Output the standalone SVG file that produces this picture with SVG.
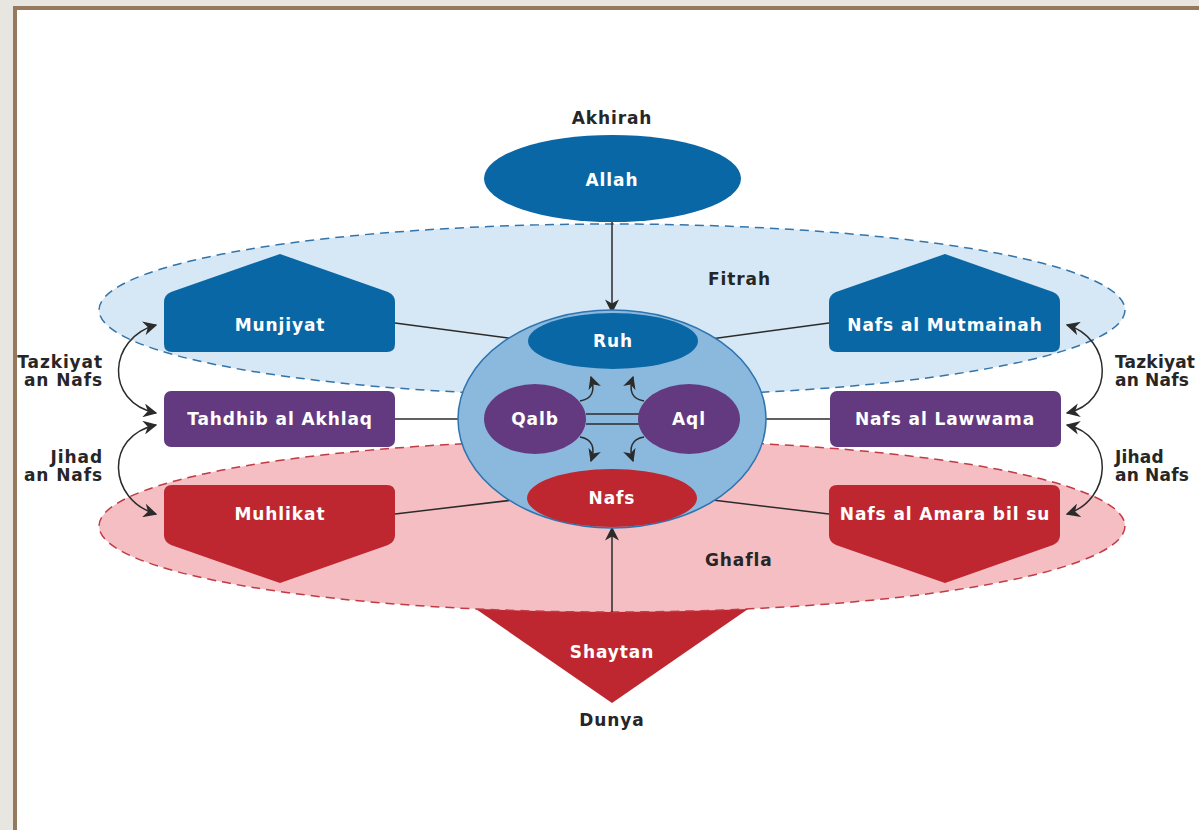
<svg xmlns="http://www.w3.org/2000/svg" width="1199" height="830" viewBox="0 0 1199 830">
  <style>
    .lbl { font-family: "DejaVu Sans", "Open Sans", sans-serif; font-weight: 700; font-size: 17px; letter-spacing: 0.9px; }
    .in { fill: #ffffff; text-anchor: middle; }
    .out { fill: #262626; }
    .tight { letter-spacing: 0.2px; }
    .link { stroke: #2b2b2b; stroke-width: 1.5; fill: none; }
    .blue { fill: #0a67a6; }
    .purple { fill: #633a80; }
    .red { fill: #be2630; }
  </style>
  <defs>
    <marker id="head" viewBox="0 0 10 10" refX="9" refY="5" markerWidth="13" markerHeight="13" markerUnits="userSpaceOnUse" orient="auto-start-reverse">
      <path d="M0,0 L10,5 L0,10 L3,5 Z" fill="#2b2b2b"/>
    </marker>
    <marker id="bighead" viewBox="0 0 10 10" refX="9" refY="5" markerWidth="14" markerHeight="14" markerUnits="userSpaceOnUse" orient="auto-start-reverse">
      <path d="M0,0 L10,5 L0,10 L3,5 Z" fill="#2b2b2b"/>
    </marker>
    <path id="house" d="M280,254 L388,292 Q395,295 395,302 L395,344 Q395,352 387,352 L172,352 Q164,352 164,344 L164,302 Q164,295 171,292 Z"/>
    <path id="shield" d="M172,485 L387,485 Q395,485 395,493 L395,535 Q395,542 388,545 L280,583 L171,545 Q164,542 164,535 L164,493 Q164,485 172,485 Z"/>
  </defs>

  <!-- page frame -->
  <rect x="0" y="0" width="1199" height="830" fill="#e8e6e1"/>
  <rect x="13" y="6" width="1186" height="824" fill="#977a5e"/>
  <rect x="17" y="10" width="1182" height="820" fill="#ffffff"/>

  <!-- Shaytan sits behind the Ghafla band -->
  <g id="shaytan">
    <path d="M460,598 L764,598 L612,703 Z" class="red"/>
    <text x="612" y="658" class="lbl in">Shaytan</text>
  </g>

  <!-- realms -->
  <g id="fitrah">
    <ellipse cx="612" cy="310" rx="513" ry="86" fill="#d6e8f5" stroke="#3474aa" stroke-width="1.5" stroke-dasharray="9 6"/>
    <text x="708" y="285" class="lbl out">Fitrah</text>
  </g>
  <g id="ghafla">
    <ellipse cx="612" cy="526" rx="513" ry="86" fill="#f5bec3" stroke="#c23a44" stroke-width="1.5" stroke-dasharray="9 6"/>
    <text x="705" y="566" class="lbl out">Ghafla</text>
  </g>

  <text x="612" y="124" class="lbl out" text-anchor="middle">Akhirah</text>
  <text x="612" y="726" class="lbl out" text-anchor="middle">Dunya</text>

  <!-- connectors -->
  <g id="connectors">
    <line x1="612" y1="222" x2="612" y2="312" class="link" marker-end="url(#bighead)"/>
    <line x1="612" y1="612" x2="612" y2="528" class="link" marker-end="url(#bighead)"/>
    <line x1="395" y1="323" x2="530" y2="341" class="link"/>
    <line x1="829" y1="323" x2="696" y2="341" class="link"/>
    <line x1="395" y1="514" x2="530" y2="498" class="link"/>
    <line x1="829" y1="514" x2="696" y2="498" class="link"/>
    <line x1="395" y1="419" x2="486" y2="419" class="link"/>
    <line x1="738" y1="419" x2="830" y2="419" class="link"/>
    <!-- sidebar cycles -->
    <path d="M156,325 C108,338 104,402 156,413" class="link" marker-start="url(#bighead)" marker-end="url(#bighead)"/>
    <path d="M156,425 C104,436 108,500 156,514" class="link" marker-start="url(#bighead)" marker-end="url(#bighead)"/>
    <path d="M1067,325 C1112,338 1116,402 1067,413" class="link" marker-start="url(#bighead)" marker-end="url(#bighead)"/>
    <path d="M1067,425 C1116,436 1112,500 1067,514" class="link" marker-start="url(#bighead)" marker-end="url(#bighead)"/>
  </g>

  <!-- sidebar labels -->
  <g id="labels-left" class="lbl out" text-anchor="end">
    <text x="103" y="368">Tazkiyat</text>
    <text x="103" y="386">an Nafs</text>
    <text x="103" y="463">Jihad</text>
    <text x="103" y="481">an Nafs</text>
  </g>
  <g id="labels-right" class="lbl out tight">
    <text x="1115" y="368">Tazkiyat</text>
    <text x="1115" y="386">an Nafs</text>
    <text x="1115" y="463">Jihad</text>
    <text x="1115" y="481">an Nafs</text>
  </g>

  <g id="allah">
    <ellipse cx="612.5" cy="178.5" rx="128.5" ry="43.5" class="blue"/>
    <text x="612" y="186" class="lbl in">Allah</text>
  </g>

  <!-- inner self -->
  <g id="self">
    <ellipse cx="612" cy="419" rx="154" ry="109" fill="#8bb8dd" stroke="#2d74b1" stroke-width="1.5"/>
    <line x1="586" y1="414" x2="640" y2="414" class="link"/>
    <line x1="586" y1="424" x2="640" y2="424" class="link"/>
    <path d="M580,401 Q598,398 591,377" class="link" marker-end="url(#head)"/>
    <path d="M644,401 Q626,398 633,377" class="link" marker-end="url(#head)"/>
    <path d="M580,437 Q598,440 591,461" class="link" marker-end="url(#head)"/>
    <path d="M644,437 Q626,440 633,461" class="link" marker-end="url(#head)"/>
  </g>
  <g id="ruh">
    <ellipse cx="613" cy="341" rx="85" ry="28" class="blue"/>
    <text x="613" y="347" class="lbl in">Ruh</text>
  </g>
  <g id="nafs">
    <ellipse cx="612" cy="498" rx="85" ry="29" class="red"/>
    <text x="612" y="504" class="lbl in">Nafs</text>
  </g>
  <g id="qalb">
    <ellipse cx="535" cy="419" rx="51" ry="35" class="purple"/>
    <text x="535" y="425" class="lbl in">Qalb</text>
  </g>
  <g id="aql">
    <ellipse cx="689" cy="419" rx="51" ry="35" class="purple"/>
    <text x="689" y="425" class="lbl in">Aql</text>
  </g>

  <!-- stations -->
  <g id="munjiyat">
    <use href="#house" class="blue"/>
    <text x="280" y="331" class="lbl in">Munjiyat</text>
  </g>
  <g id="mutmainah">
    <use href="#house" x="665" class="blue"/>
    <text x="945" y="331" class="lbl in">Nafs al Mutmainah</text>
  </g>
  <g id="tahdhib">
    <rect x="164" y="391" width="231" height="56" rx="7" class="purple"/>
    <text x="280" y="425" class="lbl in">Tahdhib al Akhlaq</text>
  </g>
  <g id="lawwama">
    <rect x="830" y="391" width="231" height="56" rx="7" class="purple"/>
    <text x="945" y="425" class="lbl in">Nafs al Lawwama</text>
  </g>
  <g id="muhlikat">
    <use href="#shield" class="red"/>
    <text x="280" y="520" class="lbl in">Muhlikat</text>
  </g>
  <g id="amara">
    <use href="#shield" x="665" class="red"/>
    <text x="945" y="520" class="lbl in">Nafs al Amara bil su</text>
  </g>
</svg>
